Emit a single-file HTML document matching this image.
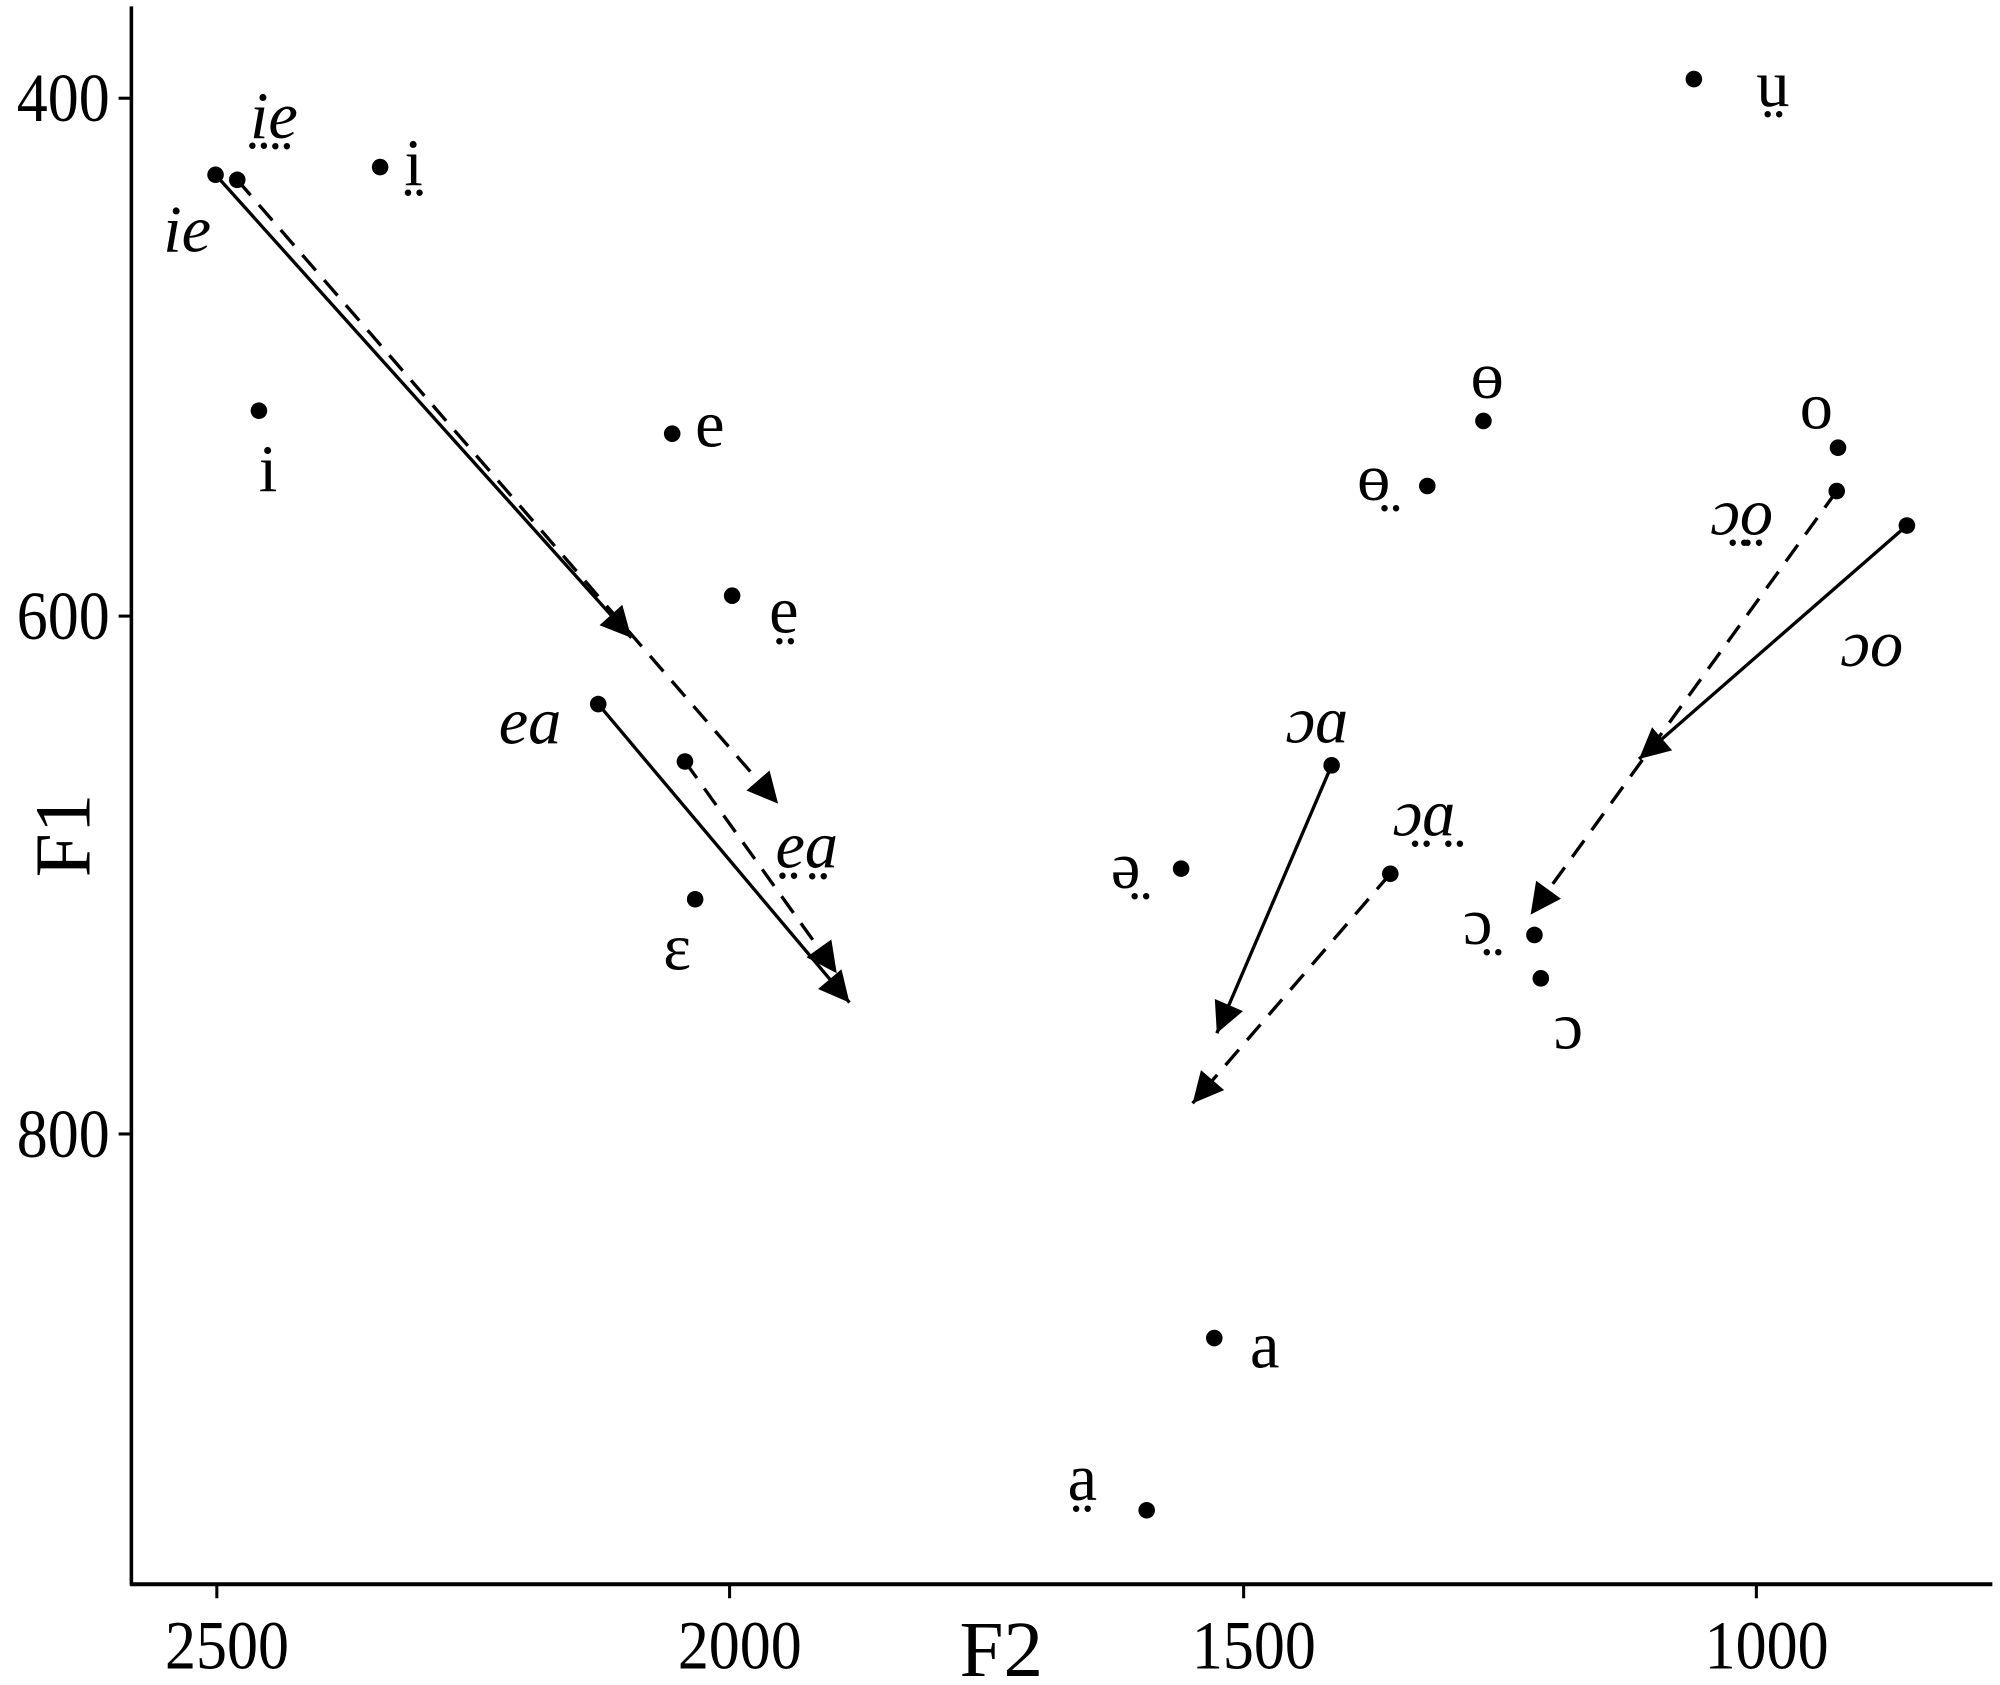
<!DOCTYPE html>
<html><head><meta charset="utf-8"><style>
html,body{margin:0;padding:0;background:#fff;}
svg{display:block;}
text{font-family:"Liberation Serif","DejaVu Serif",serif;fill:#000;}
.lab{font-size:52px;}
.it{font-style:italic;}
.tk{font-size:54px;}
</style></head><body>
<svg width="2000" height="1685" viewBox="0 0 1568 1321" preserveAspectRatio="none" xmlns="http://www.w3.org/2000/svg">
<defs>
<marker id="a2" viewBox="0 0 10 10" refX="10" refY="5" markerWidth="28" markerHeight="24" markerUnits="userSpaceOnUse" orient="auto"><path d="M0,0 L10,5 L0,10 z" fill="#000"/></marker>
</defs>
<line x1="103" y1="5" x2="103" y2="1243" stroke="#000" stroke-width="2.8"/>
<line x1="102" y1="1242" x2="1562" y2="1242" stroke="#000" stroke-width="3.2"/>
<g stroke="#000" stroke-width="2.4">
<line x1="170" y1="1242" x2="170" y2="1253"/><line x1="572" y1="1242" x2="572" y2="1253"/>
<line x1="975" y1="1242" x2="975" y2="1253"/><line x1="1377" y1="1242" x2="1377" y2="1253"/>
<line x1="93" y1="77" x2="103" y2="77"/><line x1="93" y1="483" x2="103" y2="483"/><line x1="93" y1="889" x2="103" y2="889"/>
</g>
<g class="tk" text-anchor="middle">
<text transform="translate(178,1308) scale(0.9,1)">2500</text>
<text transform="translate(580,1308) scale(0.9,1)">2000</text>
<text transform="translate(983,1308) scale(0.9,1)">1500</text>
<text transform="translate(1385,1308) scale(0.9,1)">1000</text>
</g>
<g class="tk" text-anchor="end">
<text transform="translate(86,95) scale(0.9,1)">400</text>
<text transform="translate(86,501) scale(0.9,1)">600</text>
<text transform="translate(86,907) scale(0.9,1)">800</text>
</g>
<text x="785" y="1314" font-size="62" text-anchor="middle">F2</text>
<text transform="translate(70,655) rotate(-90)" font-size="62" text-anchor="middle">F1</text>

<g stroke="#000" stroke-width="2.6" fill="none">
<line x1="169" y1="137" x2="495" y2="500" marker-end="url(#a2)"/>
<line x1="186" y1="141" x2="610" y2="630" stroke-dasharray="16,10" marker-end="url(#a2)"/>
<line x1="469" y1="552" x2="666" y2="786" marker-end="url(#a2)"/>
<line x1="537" y1="597" x2="656" y2="763" stroke-dasharray="16,10" marker-end="url(#a2)"/>
<line x1="1495" y1="412" x2="1285" y2="595" marker-end="url(#a2)"/>
<line x1="1440" y1="385" x2="1200" y2="717" stroke-dasharray="16,10" marker-end="url(#a2)"/>
<line x1="1044" y1="600" x2="954" y2="810" marker-end="url(#a2)"/>
<line x1="1090" y1="685" x2="935" y2="865" stroke-dasharray="16,10" marker-end="url(#a2)"/>
</g>
<g fill="#000">
<circle cx="169" cy="137" r="6.5"/><circle cx="186" cy="141" r="6.5"/>
<circle cx="298" cy="131" r="6.5"/><circle cx="203" cy="322" r="6.5"/>
<circle cx="527" cy="340" r="6.5"/><circle cx="574" cy="467" r="6.5"/>
<circle cx="469" cy="552" r="6.5"/><circle cx="537" cy="597" r="6.5"/>
<circle cx="545" cy="705" r="6.5"/>
<circle cx="1328" cy="62" r="6.5"/><circle cx="1163" cy="330" r="6.5"/>
<circle cx="1119" cy="381" r="6.5"/><circle cx="1441" cy="351" r="6.5"/>
<circle cx="1440" cy="385" r="6.5"/><circle cx="1495" cy="412" r="6.5"/>
<circle cx="1203" cy="733" r="6.5"/><circle cx="1208" cy="767" r="6.5"/>
<circle cx="1044" cy="600" r="6.5"/><circle cx="1090" cy="685" r="6.5"/>
<circle cx="926" cy="681" r="6.5"/><circle cx="952" cy="1049" r="6.5"/>
<circle cx="899" cy="1184" r="6.5"/>
</g>
<g class="lab">
<text x="128" y="197" class="it">ie</text>
<text x="196" y="108" class="it">i̤e̤</text>
<text x="317" y="145">i̤</text>
<text x="203" y="385">i</text>
<text x="545" y="350">e</text>
<text x="603" y="496">e̤</text>
<text x="391" y="583" class="it">ea</text>
<text x="608" y="680" class="it">e̤a̤</text>
<text x="520" y="760">ɛ</text>
<text x="1377" y="83">ṳ</text>
<text x="1153" y="312">ɵ</text>
<text x="1064" y="392">ɵ̤</text>
<text x="1411" y="336">o</text>
<text x="1341" y="419" class="it">ɔ̤o̤</text>
<text x="1443" y="522" class="it">ɔo</text>
<text x="1147" y="740">ɔ̤</text>
<text x="1218" y="822">ɔ</text>
<text x="1008" y="582" class="it">ɔɑ</text>
<text x="1092" y="655" class="it">ɔ̤ɑ̤</text>
<text x="871" y="696">ə̤</text>
<text x="980" y="1072">a</text>
<text x="837" y="1176">a̤</text>
</g>
</svg>
</body></html>
